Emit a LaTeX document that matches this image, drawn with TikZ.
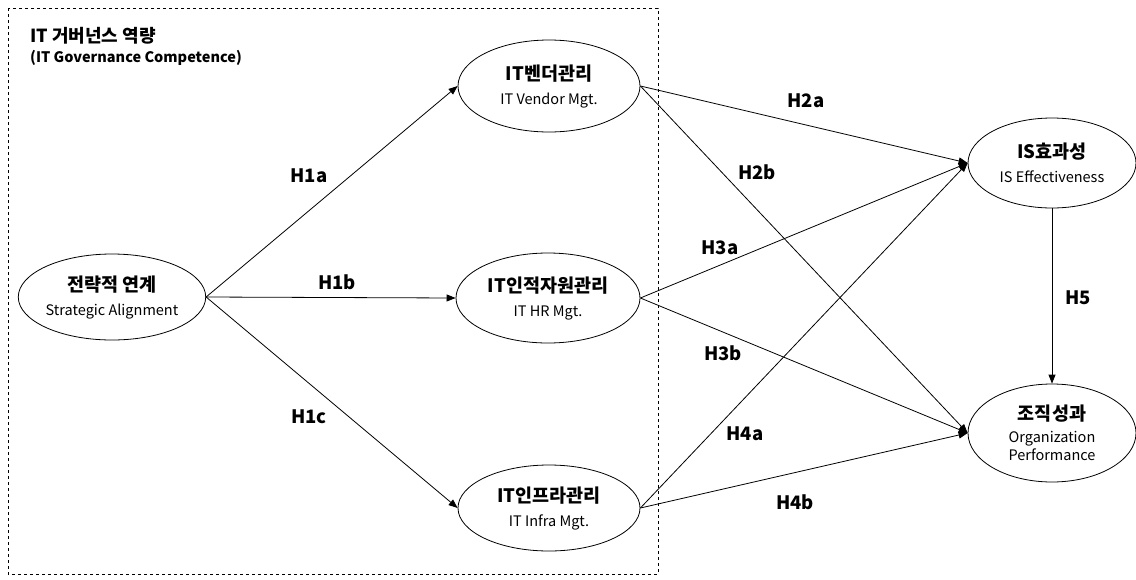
\documentclass[tikz,border=0pt]{standalone}
\usepackage{fontspec}
\setmainfont{Noto Sans CJK KR}
\usetikzlibrary{arrows.meta,shapes.geometric}
\begin{document}
\begin{tikzpicture}[x=1pt,y=-1pt,
  ell/.style={draw, ellipse, inner sep=0pt, line width=0.8pt, align=center,
    font=\fontsize{14.5}{24}\selectfont},
  kor/.style={font=\fontsize{18.5}{24}\selectfont\bfseries},
  arr/.style={-{Triangle[length=9pt,width=7pt]}, line width=0.8pt},
  hlab/.style={font=\fontsize{18.5}{20}\selectfont\bfseries, inner sep=0pt}
]
\useasboundingbox (0,0) rectangle (1136,579);
\draw[dashed, line width=0.7pt] (8,8) rectangle (658,574);

\node[anchor=west, inner sep=0pt, font=\fontsize{18}{20}\selectfont\bfseries] (title) at (30,36) {IT 거버넌스 역량};
\node[anchor=west, inner sep=0pt, font=\fontsize{14.5}{17}\selectfont\bfseries] (subtitle) at (30,58) {(IT Governance Competence)};

\node[ell, minimum width=184pt, minimum height=86pt] (sa) at (112,297)
  {{\fontsize{18.5}{24}\selectfont\bfseries 전략적 연계}\\Strategic Alignment};
\node[ell, minimum width=182pt, minimum height=92pt] (ven) at (549,86)
  {{\fontsize{18.5}{24}\selectfont\bfseries IT벤더관리}\\IT Vendor Mgt.};
\node[ell, minimum width=184pt, minimum height=90pt] (hr) at (548,298)
  {{\fontsize{18.5}{24}\selectfont\bfseries IT인적자원관리}\\IT HR Mgt.};
\node[ell, minimum width=182pt, minimum height=86pt] (inf) at (549,508)
  {{\fontsize{18.5}{24}\selectfont\bfseries IT인프라관리}\\IT Infra Mgt.};
\node[ell, minimum width=168pt, minimum height=90pt] (is) at (1052,163)
  {{\fontsize{18.5}{24}\selectfont\bfseries IS효과성}\\IS Effectiveness};
\node[ell, minimum width=168pt, minimum height=98pt] (op) at (1052,433)
  {{\fontsize{18.5}{24}\selectfont\bfseries 조직성과}\\[-2pt]Organization\\[-6pt]Performance};

\draw[arr] (sa.east) -- (ven.west);
\draw[arr] (sa.east) -- (hr.west);
\draw[arr] (sa.east) -- (inf.west);
\draw[arr] (ven.east) -- (is.west);
\draw[arr] (ven.east) -- (op.west);
\draw[arr] (hr.east) -- (is.west);
\draw[arr] (hr.east) -- (op.west);
\draw[arr] (inf.east) -- (is.west);
\draw[arr] (inf.east) -- (op.west);
\draw[arr] (is.south) -- (op.north);

\node[hlab] (h1a) at (309,176) {H1a};
\node[hlab] (h1b) at (337,282) {H1b};
\node[hlab] (h1c) at (309,417) {H1c};
\node[hlab] (h2a) at (806,101) {H2a};
\node[hlab] (h2b) at (757,172) {H2b};
\node[hlab] (h3a) at (720,248) {H3a};
\node[hlab] (h3b) at (723,353) {H3b};
\node[hlab] (h4a) at (745,434) {H4a};
\node[hlab] (h4b) at (795,502) {H4b};
\node[hlab] (h5) at (1078,298) {H5};
\end{tikzpicture}
\end{document}
